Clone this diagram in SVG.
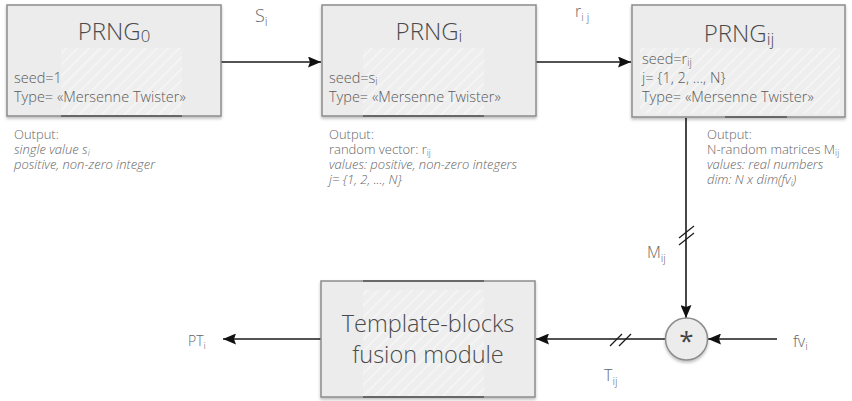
<svg xmlns="http://www.w3.org/2000/svg" width="852" height="401" viewBox="0 0 852 401">
  <style>
    .box { fill: #ececec; stroke: #8c8c8c; stroke-width: 1.5; }
    .title { font-family: "Open Sans", "Liberation Sans", sans-serif; font-weight: 300; font-size: 24px; fill: #4a4a4a; }
    .big { font-family: "Open Sans", "Liberation Sans", sans-serif; font-weight: 300; font-size: 23.5px; fill: #4a4a4a; text-anchor: middle; }
    .body { font-family: "Open Sans", "Liberation Sans", sans-serif; font-weight: 300; font-size: 14.5px; fill: #5a5a5a; }
    .note { font-family: "Open Sans", "Liberation Sans", sans-serif; font-weight: 300; font-size: 13px; fill: #666; }
    .it { font-style: italic; }
    .lbl { font-family: "Open Sans", "Liberation Sans", sans-serif; font-weight: 300; font-size: 16px; fill: #666; }
    .wire { fill: none; stroke: #1a1a1a; stroke-width: 1.6; }
    .tick { fill: none; stroke: #1a1a1a; stroke-width: 1.3; }
    .sub { font-size: 70%; }
  </style>
  <defs>
    <marker id="arrow" viewBox="0 0 13 11" refX="13" refY="5.5" markerWidth="13" markerHeight="11" markerUnits="userSpaceOnUse" orient="auto">
      <path d="M0,0 L13,5.5 L0,11 L2,5.5 Z" fill="#111"/>
    </marker>
    <filter id="shadow" x="-5%" y="-5%" width="110%" height="115%">
      <feDropShadow dx="0" dy="2" stdDeviation="1.5" flood-color="#000" flood-opacity="0.25"/>
    </filter>
    <pattern id="hatch" width="8" height="8" patternUnits="userSpaceOnUse" patternTransform="rotate(45)">
      <rect width="8" height="8" fill="#eeeeee"/>
      <line x1="0" y1="0" x2="0" y2="8" stroke="#f4f4f4" stroke-width="4"/>
    </pattern>
  </defs>

  <!-- connectors -->
  <g id="connectors">
    <line class="wire" x1="221" y1="62" x2="321" y2="62" marker-end="url(#arrow)"/>
    <line class="wire" x1="536" y1="62" x2="631" y2="62" marker-end="url(#arrow)"/>
    <line class="wire" x1="686" y1="118" x2="686" y2="318" marker-end="url(#arrow)"/>
    <line class="tick" x1="679" y1="238" x2="694" y2="226"/>
    <line class="tick" x1="679" y1="245" x2="694" y2="233"/>
    <line class="wire" x1="777" y1="339" x2="708" y2="339" marker-end="url(#arrow)"/>
    <line class="wire" x1="665" y1="339" x2="536" y2="339" marker-end="url(#arrow)"/>
    <line class="tick" x1="610" y1="346" x2="622" y2="334"/>
    <line class="tick" x1="619" y1="346" x2="631" y2="334"/>
    <line class="wire" x1="321" y1="339" x2="223" y2="339" marker-end="url(#arrow)"/>
  </g>

  <!-- edge labels -->
  <g id="labels">
    <text class="lbl" x="255" y="22" style="font-size:18px">S<tspan class="sub" dy="4">i</tspan></text>
    <text class="lbl" x="575" y="17">r<tspan class="sub" dy="4">i j</tspan></text>
    <text class="lbl" x="647" y="258">M<tspan class="sub" dy="4">ij</tspan></text>
    <text class="lbl" x="604" y="381">T<tspan class="sub" dy="4">ij</tspan></text>
    <text class="lbl" x="793" y="347">fv<tspan class="sub" dy="3">i</tspan></text>
    <text class="lbl" x="188" y="346" style="font-size:14px">PT<tspan class="sub" dy="3">i</tspan></text>
  </g>

  <!-- PRNG_0 -->
  <g id="prng0">
    <rect class="box" x="7" y="5" width="214" height="111" filter="url(#shadow)"/>
    <rect x="61" y="48" width="121" height="67" fill="url(#hatch)"/>
    <line x1="61" y1="116" x2="182" y2="116" stroke="#555" stroke-width="1.5"/>
    <text class="title" x="114" y="40" text-anchor="middle">PRNG<tspan class="sub" dy="2">0</tspan></text>
    <text class="body" x="14" y="83">seed=1</text>
    <text class="body" x="14" y="102">Type= «Mersenne Twister»</text>
  </g>
  <g id="prng0-output">
    <text class="note" x="14" y="139">Output:</text>
    <text class="note it" x="14" y="154">single value s<tspan class="sub" dy="2">i</tspan></text>
    <text class="note it" x="14" y="169">positive, non-zero integer</text>
  </g>

  <!-- PRNG_i -->
  <g id="prngi">
    <rect class="box" x="322" y="5" width="214" height="111" filter="url(#shadow)"/>
    <rect x="363" y="48" width="121" height="67" fill="url(#hatch)"/>
    <line x1="363" y1="116" x2="484" y2="116" stroke="#555" stroke-width="1.5"/>
    <text class="title" x="429" y="40" text-anchor="middle">PRNG<tspan class="sub" dy="2">i</tspan></text>
    <text class="body" x="329" y="83">seed=s<tspan class="sub" dy="2">i</tspan></text>
    <text class="body" x="329" y="102">Type= «Mersenne Twister»</text>
  </g>
  <g id="prngi-output">
    <text class="note" x="329" y="139">Output:</text>
    <text class="note" x="329" y="154">random vector: r<tspan class="sub" dy="2">ij</tspan></text>
    <text class="note it" x="329" y="169">values: positive, non-zero integers</text>
    <text class="note it" x="329" y="184">j= {1, 2, ..., N}</text>
  </g>

  <!-- PRNG_ij -->
  <g id="prngij">
    <rect class="box" x="632" y="5" width="213" height="112" filter="url(#shadow)"/>
    <rect x="640" y="48" width="200" height="66" fill="url(#hatch)"/>
    <line x1="725" y1="117" x2="787" y2="117" stroke="#555" stroke-width="1.5"/>
    <text class="title" x="739" y="42" text-anchor="middle">PRNG<tspan class="sub" dy="3">ij</tspan></text>
    <text class="body" x="642" y="64">seed=r<tspan class="sub" dy="2">ij</tspan></text>
    <text class="body" x="642" y="83">j= {1, 2, ..., N}</text>
    <text class="body" x="642" y="102">Type= «Mersenne Twister»</text>
  </g>
  <g id="prngij-output">
    <text class="note" x="707" y="139">Output:</text>
    <text class="note" x="707" y="154">N-random matrices M<tspan class="sub" dy="2">ij</tspan></text>
    <text class="note it" x="707" y="169">values: real numbers</text>
    <text class="note it" x="707" y="184">dim: N x dim(fv<tspan class="sub" dy="2">i</tspan><tspan dy="-2">)</tspan></text>
  </g>

  <!-- multiplier -->
  <g id="multiplier">
    <circle cx="686.5" cy="339" r="21" fill="#ececec" stroke="#8c8c8c" stroke-width="1.5" filter="url(#shadow)"/>
    <text x="686.5" y="350" text-anchor="middle" font-family="'Open Sans', 'Liberation Sans', sans-serif" font-size="26" fill="#444">*</text>
  </g>

  <!-- fusion module -->
  <g id="fusion">
    <rect class="box" x="321" y="281" width="214" height="116" filter="url(#shadow)"/>
    <rect x="363" y="290" width="121" height="106" fill="url(#hatch)"/>
    <line x1="363" y1="281" x2="484" y2="281" stroke="#555" stroke-width="1.5"/>
    <line x1="363" y1="397" x2="484" y2="397" stroke="#555" stroke-width="1.5"/>
    <text class="big" x="428" y="332">Template-blocks</text>
    <text class="big" x="428" y="363">fusion module</text>
  </g>
</svg>
